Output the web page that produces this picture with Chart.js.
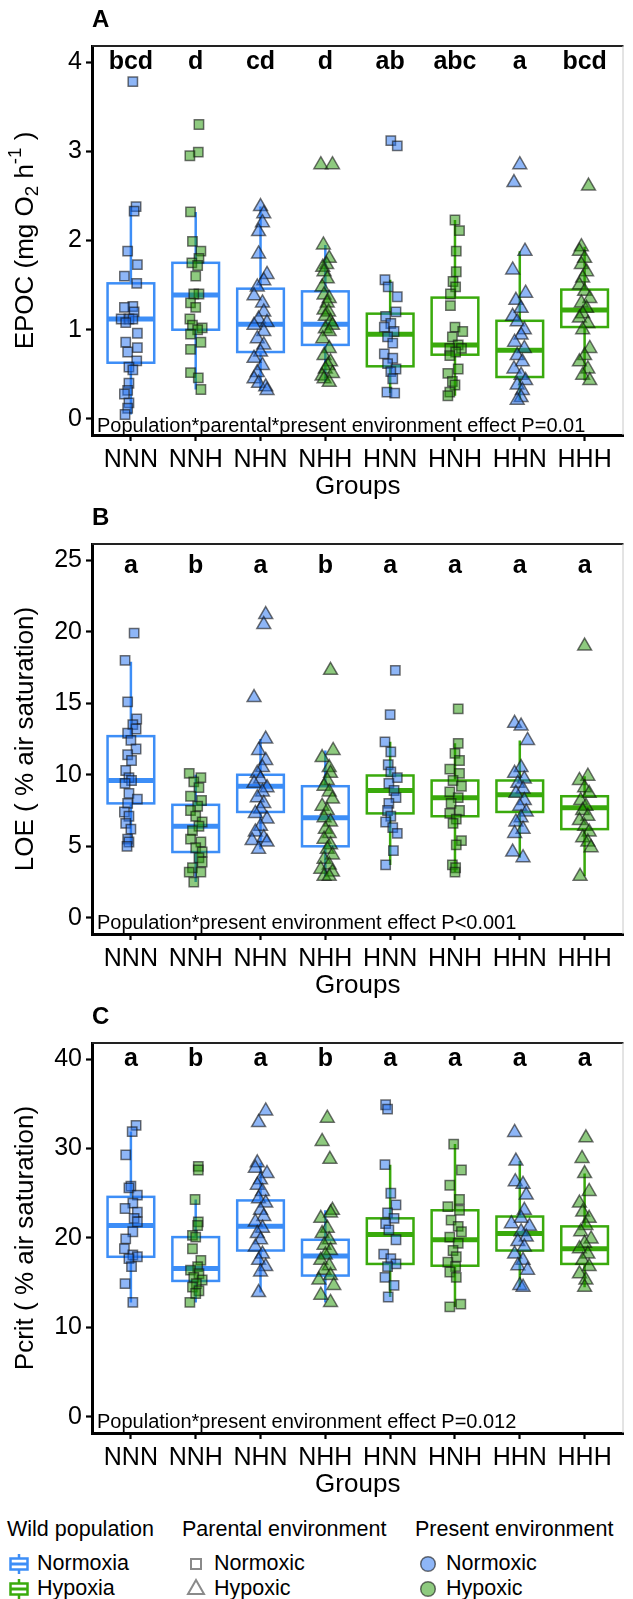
<!DOCTYPE html>
<html><head><meta charset="utf-8">
<script src="https://cdn.jsdelivr.net/npm/chart.js@4.4.1/dist/chart.umd.min.js"></script>
<style>
html,body{margin:0;padding:0;background:#fff;}
body{width:633px;height:1599px;position:relative;overflow:hidden;font-family:"Liberation Sans",Arial,sans-serif;}
canvas{position:absolute;left:0;}
.lg{position:absolute;font-size:21.5px;color:#000;line-height:1;white-space:nowrap;}
.lk{position:absolute;}
</style></head><body>
<canvas id="cA" width="633" height="500" style="top:0px"></canvas>
<canvas id="cB" width="633" height="500" style="top:499px"></canvas>
<canvas id="cC" width="633" height="500" style="top:998px"></canvas>

<div class="lg" style="left:7px;top:1519px">Wild population</div>
<div class="lg" style="left:182px;top:1519px">Parental environment</div>
<div class="lg" style="left:415px;top:1519px">Present environment</div>

<svg class="lk" style="left:8px;top:1554px" width="22" height="20"><line x1="11" y1="0" x2="11" y2="20" stroke="#3D8EF7" stroke-width="2.5"/><rect x="2.5" y="4.5" width="17" height="11" fill="#fff" stroke="#3D8EF7" stroke-width="2.5"/><line x1="2.5" y1="10" x2="19.5" y2="10" stroke="#3D8EF7" stroke-width="3"/></svg>
<div class="lg" style="left:37px;top:1553px">Normoxia</div>
<svg class="lk" style="left:8px;top:1579px" width="22" height="20"><line x1="11" y1="0" x2="11" y2="20" stroke="#3AAA0C" stroke-width="2.5"/><rect x="2.5" y="4.5" width="17" height="11" fill="#fff" stroke="#3AAA0C" stroke-width="2.5"/><line x1="2.5" y1="10" x2="19.5" y2="10" stroke="#3AAA0C" stroke-width="3"/></svg>
<div class="lg" style="left:37px;top:1578px">Hypoxia</div>

<svg class="lk" style="left:186px;top:1554px" width="20" height="20"><rect x="5" y="5" width="10" height="10" fill="none" stroke="#8a8a8a" stroke-width="2"/></svg>
<div class="lg" style="left:214px;top:1553px">Normoxic</div>
<svg class="lk" style="left:186px;top:1578px" width="20" height="20"><polygon points="10,2 18,16 2,16" fill="none" stroke="#8a8a8a" stroke-width="2"/></svg>
<div class="lg" style="left:214px;top:1578px">Hypoxic</div>

<svg class="lk" style="left:418px;top:1554px" width="20" height="20"><circle cx="10" cy="10" r="7.3" fill="rgba(30,110,240,0.5)" stroke="rgba(20,20,20,0.6)" stroke-width="1.5"/></svg>
<div class="lg" style="left:446px;top:1553px">Normoxic</div>
<svg class="lk" style="left:418px;top:1579px" width="20" height="20"><circle cx="10" cy="10" r="7.3" fill="rgba(30,150,0,0.5)" stroke="rgba(20,20,20,0.6)" stroke-width="1.5"/></svg>
<div class="lg" style="left:446px;top:1578px">Hypoxic</div>

<script>
// ---------------- DATA ----------------
const categories = ['NNN','NNH','NHN','NHH','HNN','HNH','HHN','HHH'];

const epocTicks  = [0, 1, 2, 3, 4];
const loeTicks   = [0, 5, 10, 15, 20, 25];
const pcritTicks = [0, 10, 20, 30, 40];

const epocLetters  = ['bcd','d','cd','d','ab','abc','a','bcd'];
const loeLetters   = ['a','b','a','b','a','a','a','a'];
const pcritLetters = ['a','b','a','b','a','a','a','a'];

// box summaries: [lower whisker, Q1, median, Q3, upper whisker]
const epocBoxes = [
  [0.05, 0.63, 1.12, 1.52, 2.38],
  [0.33, 1.00, 1.39, 1.75, 2.32],
  [0.32, 0.75, 1.06, 1.46, 2.38],
  [0.41, 0.83, 1.06, 1.43, 1.95],
  [0.29, 0.59, 0.95, 1.18, 1.56],
  [0.26, 0.72, 0.83, 1.36, 2.23],
  [0.21, 0.47, 0.77, 1.10, 1.88],
  [0.43, 1.03, 1.22, 1.45, 1.93]
];
const loeBoxes = [
  [5.0, 8.0, 9.6, 12.7, 17.9],
  [2.5, 4.6, 6.4, 7.9, 10.0],
  [4.8, 7.4, 9.2, 10.0, 12.5],
  [2.9, 5.0, 7.0, 9.2, 11.7],
  [3.7, 7.3, 8.9, 9.95, 12.3],
  [3.2, 7.1, 8.4, 9.6, 12.2],
  [4.2, 7.4, 8.6, 9.6, 12.4],
  [2.9, 6.2, 7.7, 8.5, 9.9]
];
const pcritBoxes = [
  [12.8, 17.9, 21.4, 24.6, 31.9],
  [12.8, 15.2, 16.6, 20.1, 24.3],
  [13.9, 18.6, 21.3, 24.2, 28.4],
  [12.8, 15.8, 18.0, 19.8, 23.1],
  [13.4, 17.1, 20.4, 22.2, 28.2],
  [12.3, 16.9, 19.8, 23.1, 30.5],
  [14.5, 18.6, 20.5, 22.4, 28.6],
  [14.5, 17.1, 18.8, 21.3, 27.2]
];

// individual observations per group
const epocValues = [
  [3.78,2.38,2.33,1.88,1.73,1.60,1.52,1.26,1.25,1.20,1.12,1.12,1.12,1.08,0.96,0.86,0.80,0.75,0.65,0.58,0.55,0.40,0.32,0.28,0.18,0.12,0.05],
  [3.30,2.99,2.95,2.32,1.99,1.88,1.80,1.75,1.72,1.60,1.40,1.40,1.30,1.25,1.12,1.05,1.02,1.00,0.95,0.86,0.78,0.52,0.46,0.33],
  [2.38,2.30,2.20,2.10,1.85,1.62,1.55,1.48,1.38,1.30,1.20,1.12,1.08,1.05,0.98,0.90,0.83,0.75,0.68,0.60,0.52,0.45,0.40,0.36,0.32],
  [2.85,2.85,1.95,1.80,1.73,1.70,1.65,1.57,1.48,1.39,1.35,1.30,1.22,1.20,1.15,1.09,1.05,1.01,0.98,0.90,0.79,0.71,0.64,0.60,0.56,0.51,0.48,0.45,0.41],
  [3.12,3.06,1.56,1.48,1.37,1.20,1.15,1.07,1.03,0.98,0.92,0.85,0.73,0.68,0.62,0.56,0.53,0.45,0.30,0.29],
  [2.23,2.11,1.88,1.65,1.54,1.48,1.40,1.27,1.03,0.98,0.92,0.83,0.79,0.79,0.75,0.71,0.56,0.51,0.42,0.38,0.30,0.26],
  [2.85,2.65,1.88,1.67,1.41,1.33,1.24,1.15,1.09,1.00,0.94,0.86,0.79,0.71,0.64,0.56,0.49,0.43,0.38,0.32,0.24,0.21],
  [2.61,1.93,1.88,1.80,1.73,1.65,1.58,1.50,1.43,1.35,1.30,1.24,1.18,1.13,1.07,1.00,0.79,0.71,0.64,0.56,0.49,0.43]
];
const epocJitter = [
  [.03,.08,.05,-.05,.10,-.10,.09,.03,-.10,.05,-.15,-.03,.03,-.08,.10,-.08,.10,-.05,.09,-.03,.03,-.03,-.05,-.10,-.03,-.05,-.09],
  [.05,.04,-.09,-.08,-.05,.08,.05,-.06,.03,0,.05,-.03,-.08,0,-.09,-.05,.10,.03,-.08,.08,-.08,-.08,.04,.08],
  [0,.05,.03,-.03,-.03,.10,.05,-.05,-.10,.03,.05,-.03,.10,-.10,.05,-.05,.05,0,-.10,.03,-.05,-.10,-.03,.08,.10],
  [-.07,.11,-.03,.06,.02,-.04,-.02,.03,-.05,-.02,.06,.03,-.02,.05,0,.08,.11,0,.06,-.04,.06,-.02,.08,.04,0,.11,-.05,-.02,.06],
  [.01,.11,-.08,-.03,.11,.09,-.07,.01,-.09,.06,-.04,.04,-.09,.04,-.04,.09,.01,.04,-.05,.07],
  [0,.07,.02,.02,-.03,.01,-.07,-.07,0,.12,-.04,.05,-.08,.10,.01,-.08,.05,-.11,-.04,0,-.08,-.11],
  [0,-.09,.08,-.11,.09,-.06,.02,-.11,-.04,.07,.02,-.08,.07,-.04,.04,-.09,.02,.09,-.04,.04,.02,-.04],
  [.06,-.05,-.08,0,-.05,.03,-.03,-.08,0,.08,-.05,.03,-.03,-.08,.05,-.03,.08,0,-.08,.05,-.03,.08]
];

const loeValues = [
  [19.9,18.0,15.1,13.9,13.5,13.2,12.9,12.4,11.8,11.4,11.0,10.3,9.8,9.6,9.4,8.7,8.3,8.0,7.4,7.1,6.6,6.2,5.5,5.3,5.0],
  [10.1,9.8,9.5,9.1,8.5,8.2,7.8,7.5,7.1,6.7,6.4,6.1,5.5,5.3,4.9,4.6,4.2,3.9,3.5,3.2,3.2,2.5],
  [21.2,20.5,15.4,12.5,11.7,11.0,10.5,10.1,9.7,9.4,9.1,8.8,8.4,8.0,7.6,7.3,6.9,6.4,6.0,5.6,5.4,5.3,4.8],
  [17.3,11.7,11.2,10.5,10.1,9.6,9.2,8.8,8.3,7.8,7.5,7.0,6.7,6.2,5.9,5.5,5.1,4.8,4.4,4.1,3.7,3.4,3.2,2.9,2.9],
  [17.3,14.2,12.3,11.6,10.7,10.2,9.8,9.4,8.9,8.4,8.0,7.5,7.1,6.7,6.3,5.9,4.7,3.7],
  [14.6,12.2,11.5,11.0,10.4,10.1,9.6,9.2,8.8,8.4,8.0,7.5,7.3,6.9,6.6,5.4,5.1,3.7,3.5,3.2],
  [13.6,13.4,12.4,10.5,10.1,9.7,9.4,9.0,8.7,8.2,7.8,7.4,7.0,6.7,6.2,5.9,4.6,4.2],
  [19.0,9.9,9.6,9.1,8.7,8.2,7.8,7.5,7.1,6.8,6.4,6.0,5.6,5.3,4.9,2.9]
];
const loeJitter = [
  [.05,-.09,-.05,.09,.03,.08,-.05,0,.08,-.05,.01,-.08,-.03,.01,-.09,-.03,.10,-.05,-.10,-.03,-.08,0,-.05,-.03,-.06],
  [-.10,.08,-.03,.05,-.08,.09,.03,-.08,0,.10,.05,-.05,-.08,.08,0,.10,.05,.10,-.05,-.10,.08,-.03],
  [.08,.05,-.10,.08,-.03,.08,.03,-.05,0,-.10,.10,.03,-.05,.05,0,-.08,.10,0,-.08,.05,-.13,.10,-.03],
  [.08,.12,-.05,.06,.08,.03,-.02,.06,.11,-.05,.03,-.02,.08,0,.06,-.02,.08,.03,.11,-.02,.06,-.07,.11,-.02,.06],
  [.08,0,-.08,.01,-.03,.01,.11,-.02,.06,.09,-.02,-.04,.01,-.07,.04,.11,.05,-.07],
  [.05,.05,0,.07,-.08,.07,-.03,.10,-.08,.05,-.06,.07,-.08,.02,-.03,.10,.02,-.04,.01,0],
  [-.08,.02,.12,.02,-.08,.07,-.03,.05,-.06,.07,0,.10,.02,-.06,.05,-.08,-.11,.05],
  [0,.05,-.08,0,.07,-.06,.02,-.03,.05,-.08,0,.07,-.03,.05,.10,-.07]
];

const pcritValues = [
  [32.6,31.9,29.3,25.8,25.6,24.8,23.9,23.3,22.9,22.2,21.8,20.7,19.9,18.8,18.1,17.9,17.7,16.8,14.9,12.8],
  [28.0,27.6,24.3,21.8,21.4,20.3,20.1,18.8,17.5,16.8,16.4,16.0,15.6,15.3,14.9,14.5,14.1,13.8,12.8],
  [34.2,32.9,28.4,27.8,27.2,26.5,25.9,25.2,24.4,23.9,23.1,22.4,21.8,21.1,20.5,19.8,19.0,18.2,17.5,16.8,16.2,13.9],
  [33.4,30.8,28.8,23.1,22.8,22.2,21.1,20.5,19.8,19.2,18.6,18.1,17.5,16.9,16.4,15.8,15.3,14.7,13.6,12.8],
  [34.9,34.4,28.2,25.0,23.7,22.8,22.2,21.6,20.9,19.8,18.2,17.7,17.1,16.8,15.6,14.7,13.4],
  [30.5,27.6,25.9,24.3,23.5,23.1,22.0,21.3,20.7,20.1,19.4,18.6,17.9,17.3,16.8,16.2,15.6,12.6,12.3],
  [31.8,28.6,26.3,26.0,24.8,23.1,22.2,21.6,21.3,20.7,20.1,19.6,19.0,18.2,17.5,16.9,16.4,14.7,14.5],
  [31.2,28.9,27.2,25.2,23.9,22.9,22.2,21.4,20.7,19.9,19.4,18.8,18.2,17.5,16.8,16.0,15.3,14.5]
];
const pcritJitter = [
  [.08,.02,-.08,0,-.03,.10,.03,-.09,.10,.05,.10,.03,-.08,-.10,.03,.10,-.03,.01,-.09,.03],
  [.04,.04,-.01,.04,.03,-.05,0,-.05,.08,.03,-.08,.05,-.03,.10,.01,-.05,.05,0,-.09],
  [.08,-.03,-.05,-.08,.10,0,-.05,.03,-.03,.08,0,.05,-.08,.03,-.05,0,-.08,.03,-.03,.08,0,-.03],
  [.03,-.05,.07,.11,.08,-.07,.03,-.05,.06,-.02,.08,0,-.07,.06,-.02,.08,-.10,.13,-.07,.08],
  [-.07,-.04,-.08,.01,.09,-.04,.06,-.07,-.02,.09,-.10,.01,.09,-.04,-.08,.06,-.03],
  [-.02,.10,-.08,.07,-.11,.07,-.06,.05,.10,-.08,.05,-.03,.02,-.11,.01,-.08,.02,.09,-.08],
  [-.08,-.06,-.07,.05,.10,.07,.02,-.13,.15,.02,.10,-.03,.07,-.08,.05,-.03,.12,0,.05],
  [.02,-.04,0,.07,-.08,-.03,.07,.02,-.06,.10,0,-.08,.05,-.03,.07,-.08,.02,0]
];

// ---------------- STYLE ----------------
const FONT = '"Liberation Sans", Arial, sans-serif';
const BOX_BLUE = '#3D8EF7', BOX_GREEN = '#3AAA0C';
const FILL_BLUE = 'rgba(30,110,240,0.5)', FILL_GREEN = 'rgba(30,150,0,0.5)';
const PT_BORDER = 'rgba(20,20,20,0.6)';

const panels = [
  {id:'cA', values:epocValues, jitter:epocJitter, boxes:epocBoxes, letters:epocLetters, ticks:epocTicks,
   yMin:-0.18, yMax:4.18, letterY:4.0, tag:'A', top:46, bottom:435, effOff:3,
   effect:'Population*parental*present environment effect P=0.01',
   title:[['EPOC (mg O',0],['2',-1],[' h',0],['-1',1],[' )',0]]},
  {id:'cB', values:loeValues, jitter:loeJitter, boxes:loeBoxes, letters:loeLetters, ticks:loeTicks,
   yMin:-1.13, yMax:26.13, letterY:24.6, tag:'B', top:45, bottom:435, effOff:5,
   effect:'Population*present environment effect P<0.001',
   title:[['LOE ( % air saturation)',0]]},
  {id:'cC', values:pcritValues, jitter:pcritJitter, boxes:pcritBoxes, letters:pcritLetters, ticks:pcritTicks,
   yMin:-1.8, yMax:41.8, letterY:40, tag:'C', top:45, bottom:435, effOff:5,
   effect:'Population*present environment effect P=0.012',
   title:[['Pcrit ( % air saturation)',0]]}
];

function drawRich(ctx, parts, cx, cy, size){
  ctx.save();
  ctx.translate(cx, cy);
  ctx.rotate(-Math.PI/2);
  ctx.fillStyle = '#000';
  ctx.textBaseline = 'middle';
  let total = 0;
  parts.forEach(([t,k]) => { ctx.font = (k ? size*0.72 : size) + 'px ' + FONT; total += ctx.measureText(t).width; });
  let x = -total/2;
  parts.forEach(([t,k]) => {
    const s = k ? size*0.72 : size;
    ctx.font = s + 'px ' + FONT;
    const dy = k === -1 ? size*0.28 : (k === 1 ? -size*0.38 : 0);
    ctx.textAlign = 'left';
    ctx.fillText(t, x, dy);
    x += ctx.measureText(t).width;
  });
  ctx.restore();
}

function makePlugin(p){
  return {
    id:'deco'+p.tag,
    beforeDatasetsDraw(chart){
      const xs = chart.scales.x, ys = chart.scales.y, ctx = chart.ctx;
      p.boxes.forEach((b,i) => {
        const col = categories[i][0] === 'N' ? BOX_BLUE : BOX_GREEN;
        const xc = xs.getPixelForValue(i+1);
        const xl = xs.getPixelForValue(i+1-0.36), xr = xs.getPixelForValue(i+1+0.36);
        const [lo,q1,med,q3,hi] = b.map(v => ys.getPixelForValue(v));
        ctx.save();
        ctx.strokeStyle = col; ctx.lineWidth = 2.5;
        ctx.beginPath(); ctx.moveTo(xc,hi); ctx.lineTo(xc,q3); ctx.moveTo(xc,q1); ctx.lineTo(xc,lo); ctx.stroke();
        ctx.fillStyle = '#fff';
        ctx.fillRect(xl,q3,xr-xl,q1-q3);
        ctx.strokeRect(xl,q3,xr-xl,q1-q3);
        ctx.lineWidth = 5;
        ctx.beginPath(); ctx.moveTo(xl,med); ctx.lineTo(xr,med); ctx.stroke();
        ctx.restore();
      });
    },
    afterDraw(chart){
      const xs = chart.scales.x, ys = chart.scales.y, ctx = chart.ctx, a = chart.chartArea;
      ctx.save();
      // panel frame top/right
      ctx.strokeStyle = '#222'; ctx.lineWidth = 1.8;
      ctx.beginPath(); ctx.moveTo(a.left, a.top); ctx.lineTo(a.right, a.top); ctx.stroke();
      ctx.strokeStyle = '#c8c8c8'; ctx.lineWidth = 1;
      ctx.beginPath(); ctx.moveTo(a.right-0.5, a.top); ctx.lineTo(a.right-0.5, a.bottom); ctx.stroke();
      // significance letters
      ctx.fillStyle = '#000';
      ctx.font = 'bold 25px ' + FONT;
      ctx.textAlign = 'center'; ctx.textBaseline = 'middle';
      p.letters.forEach((t,i) => ctx.fillText(t, xs.getPixelForValue(i+1), ys.getPixelForValue(p.letterY)));
      // effect text
      ctx.font = '20px ' + FONT;
      ctx.textAlign = 'left'; ctx.textBaseline = 'alphabetic';
      ctx.fillText(p.effect, a.left + 5, a.bottom - p.effOff);
      // panel tag
      ctx.font = 'bold 24px ' + FONT;
      ctx.textBaseline = 'middle';
      ctx.fillText(p.tag, a.left, a.top - 26);
      // x title
      ctx.font = '26px ' + FONT;
      ctx.textAlign = 'center';
      ctx.fillText('Groups', (a.left + a.right)/2, a.bottom + 52);
      ctx.restore();
      // y title
      drawRich(ctx, p.title, 26, (a.top + a.bottom)/2, 26);
    }
  };
}

panels.forEach(p => {
  const datasets = categories.map((c,i) => ({
    data: p.values[i].map((v,k) => ({x: i + 1 + p.jitter[i][k], y: v})),
    pointStyle: c[1] === 'N' ? 'rect' : 'triangle',
    pointRadius: c[1] === 'N' ? 6.6 : 8,
    backgroundColor: c[2] === 'N' ? FILL_BLUE : FILL_GREEN,
    borderColor: PT_BORDER,
    borderWidth: 1.5,
    showLine: false
  }));
  const axisGrid = {display:true, drawOnChartArea:false, drawTicks:true, tickLength:6, tickWidth:2.2, tickColor:'#000'};
  new Chart(document.getElementById(p.id), {
    type:'scatter',
    data:{datasets},
    options:{
      responsive:false, animation:false, devicePixelRatio:1, events:[],
      layout:{padding:{top:p.top, right:1, left:0, bottom:0}},
      plugins:{legend:{display:false}, tooltip:{enabled:false}},
      scales:{
        x:{type:'linear', min:0.4, max:8.6,
           afterBuildTicks: ax => { ax.ticks = categories.map((c,i) => ({value:i+1})); },
           afterFit: ax => { ax.height = 500 - p.bottom; },
           ticks:{callback: v => categories[Math.round(v)-1], color:'#000', font:{family:FONT, size:25}, padding:4, maxRotation:0, autoSkip:false},
           grid:axisGrid,
           border:{display:true, color:'#000', width:3}},
        y:{type:'linear', min:p.yMin, max:p.yMax,
           afterBuildTicks: ax => { ax.ticks = p.ticks.map(v => ({value:v})); },
           afterFit: ax => { ax.width = 92; },
           ticks:{color:'#000', font:{family:FONT, size:25}, padding:4},
           grid:axisGrid,
           border:{display:true, color:'#000', width:3}}
      }
    },
    plugins:[makePlugin(p)]
  });
});
</script>
</body></html>
